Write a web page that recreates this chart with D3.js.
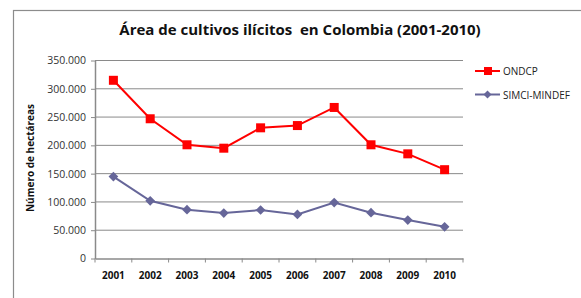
<!DOCTYPE html>
<html>
<head>
<meta charset="utf-8">
<script src="https://cdn.jsdelivr.net/npm/d3@7"></script>
<style>
  body { margin: 0; background: #fff; }
  svg { display: block; font-family: "Open Sans", "Liberation Sans", sans-serif; }
</style>
</head>
<body>
<svg id="chart" width="581" height="298"></svg>
<script>
/* ───────────── DATA ───────────── */
const years   = ["2001","2002","2003","2004","2005","2006","2007","2008","2009","2010"];
const ondcp   = [315000, 247000, 201000, 195000, 231000, 235000, 267000, 201000, 185000, 157000];
const simci   = [144800, 102000, 86300, 80300, 85700, 77900, 98900, 81000, 68000, 56000];
const yTicks  = [0, 50000, 100000, 150000, 200000, 250000, 300000, 350000];
const seriesNames = ["ONDCP", "SIMCI-MINDEF"];

/* ───────────── SETUP ───────────── */
const svg = d3.select("#chart");
const margin = {top: 60.5, left: 95, right: 118, bottom: 40};
const width  = 581 - margin.left - margin.right,
      height = 258.5 - margin.top;

// chart frame
svg.append("rect")
   .attr("x", 13.5).attr("y", 10.5)
   .attr("width", 600).attr("height", 400)
   .attr("fill", "none").attr("stroke", "#8c8c8c").attr("stroke-width", 1.2);

const g = svg.append("g").attr("transform", `translate(${margin.left},${margin.top})`);

const x = d3.scaleBand().domain(years).range([0, width]);
const y = d3.scaleLinear().domain([0, 350000]).range([height, 0]);

/* gridlines */
g.selectAll(".grid").data(yTicks.filter(d => d > 0)).join("line")
  .attr("x1", 0).attr("x2", width)
  .attr("y1", d => y(d)).attr("y2", d => y(d))
  .attr("stroke", "#8a8a8a").attr("stroke-width", 1);

/* axes */
const fmt = d => d3.format(",")(d).replace(/,/g, ".");
const yAxis = g.append("g")
  .call(d3.axisLeft(y).tickValues(yTicks).tickSize(4).tickSizeOuter(0).tickFormat(fmt).tickPadding(5));
yAxis.select(".domain").attr("stroke", "#8a8a8a").attr("stroke-width", 1.5);
yAxis.selectAll(".tick line").attr("stroke", "#8a8a8a");
yAxis.selectAll("text").attr("fill", "#333").style("font-size", "10.5px")
  .style("font-family", "'Open Sans', sans-serif");

const xAxis = g.append("g").attr("transform", `translate(0,${height})`)
  .call(d3.axisBottom(x).tickSize(0).tickPadding(13));
xAxis.select(".domain").attr("stroke", "#8a8a8a").attr("stroke-width", 1.5);
xAxis.selectAll("text").attr("fill", "#111").style("font-size", "10px").style("font-weight", "bold")
  .style("font-family", "'Open Sans', sans-serif");
// category boundary ticks
xAxis.selectAll(".bt").data(years.concat(["end"])).join("line")
  .attr("x1", (d, i) => i * x.bandwidth()).attr("x2", (d, i) => i * x.bandwidth())
  .attr("y1", 0).attr("y2", 4).attr("stroke", "#8a8a8a").attr("stroke-width", 1);

/* lines */
const cx = d => x(d) + x.bandwidth() / 2;
const line = d3.line().x((d, i) => cx(years[i])).y(d => y(d));

g.append("path").datum(simci).attr("fill", "none")
  .attr("stroke", "#666699").attr("stroke-width", 2).attr("d", line);
g.selectAll(".sm").data(simci).join("path")
  .attr("transform", (d, i) => `translate(${cx(years[i])},${y(d)})`)
  .attr("d", d3.symbol(d3.symbolDiamond2, 60)).attr("fill", "#666699");

g.append("path").datum(ondcp).attr("fill", "none")
  .attr("stroke", "#ff0000").attr("stroke-width", 2).attr("d", line);
g.selectAll(".om").data(ondcp).join("rect")
  .attr("x", (d, i) => cx(years[i]) - 4.5).attr("y", d => y(d) - 4.5)
  .attr("width", 9).attr("height", 9).attr("fill", "#ff0000");

/* title */
svg.append("text").attr("x", 300).attr("y", 35).attr("text-anchor", "middle")
  .style("font-size", "15px").style("font-weight", "bold").attr("fill", "#111")
  .attr("xml:space", "preserve")
  .text("Área de cultivos ilícitos  en Colombia (2001-2010)");

/* y title */
svg.append("text").attr("transform", "translate(34,158) rotate(-90)")
  .attr("text-anchor", "middle").style("font-size", "10px").style("font-weight", "bold")
  .attr("fill", "#111").text("Número de hectáreas");

/* legend */
const leg = svg.append("g").attr("transform", "translate(475,71)");
seriesNames.forEach((name, i) => {
  const row = leg.append("g").attr("transform", `translate(0,${i * 23.5})`);
  const col = i === 0 ? "#ff0000" : "#666699";
  row.append("line").attr("x1", 0).attr("x2", 25).attr("stroke", col).attr("stroke-width", 2);
  if (i === 0) row.append("rect").attr("x", 9).attr("y", -4).attr("width", 8).attr("height", 8).attr("fill", col);
  else row.append("path").attr("transform", "translate(12.5,0)").attr("d", d3.symbol(d3.symbolDiamond2, 40)).attr("fill", col);
  row.append("text").attr("x", 28).attr("y", 4).style("font-size", "10px").attr("fill", "#222").text(name);
});
</script>
</body>
</html>
